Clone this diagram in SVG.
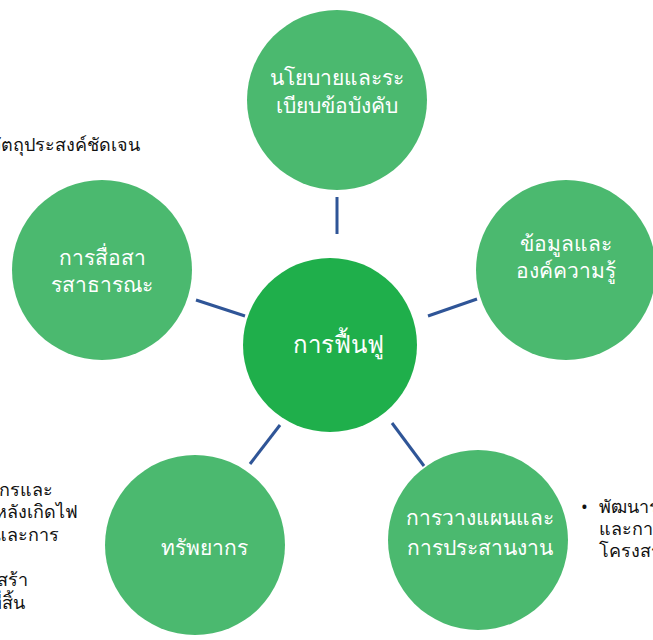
<svg xmlns="http://www.w3.org/2000/svg" width="653" height="640" viewBox="0 0 653 640">
<style>
.c{fill:#4BB96F}
.m{fill:#1FAF4B}
.t{fill:#fff;font-family:"Noto Sans","DejaVu Sans",sans-serif;font-size:21px;text-anchor:middle}
.tm{font-size:24px}
.s{fill:#111;font-family:"Noto Sans","DejaVu Sans",sans-serif;font-size:18px}
.e{text-anchor:end}
.l{stroke:#2F5597;stroke-width:3;fill:none}
</style>
<rect width="653" height="640" fill="#fff"/>
<g id="connectors">
<line class="l" x1="337" y1="197" x2="337" y2="234"/>
<line class="l" x1="196" y1="300" x2="245" y2="316"/>
<line class="l" x1="428" y1="316" x2="477" y2="299"/>
<line class="l" x1="280" y1="425" x2="250" y2="464"/>
<line class="l" x1="392" y1="423" x2="424" y2="466"/>
</g>
<g id="center">
<circle class="m" cx="330" cy="345" r="87"/>
<text class="t tm" x="338" y="353">การฟื้นฟู</text>
</g>
<g id="policy">
<circle class="c" cx="337" cy="100" r="90"/>
<text class="t" x="337" y="85">นโยบายและระ</text>
<text class="t" x="337" y="113">เบียบข้อบังคับ</text>
</g>
<g id="knowledge">
<circle class="c" cx="566" cy="270" r="90"/>
<text class="t" x="566" y="251">ข้อมูลและ</text>
<text class="t" x="566" y="278">องค์ความรู้</text>
</g>
<g id="communication">
<circle class="c" cx="102" cy="270" r="90"/>
<text class="t" x="102" y="265">การสื่อสา</text>
<text class="t" x="102" y="292">รสาธารณะ</text>
</g>
<g id="resources">
<circle class="c" cx="195" cy="545" r="90"/>
<text class="t" x="204" y="555">ทรัพยากร</text>
</g>
<g id="planning">
<circle class="c" cx="478" cy="540" r="90"/>
<text class="t" x="480" y="525">การวางแผนและ</text>
<text class="t" x="480" y="555">การประสานงาน</text>
</g>
<g id="side-texts">
<text class="s e" x="140" y="151">วัตถุประสงค์ชัดเจน</text>
<text class="s e" x="53" y="496">ทรัพยากรและ</text>
<text class="s e" x="78" y="518">งบประมาณหลังเกิดไฟ</text>
<text class="s e" x="59" y="541">และการ</text>
<text class="s e" x="28" y="586">การสร้า</text>
<text class="s e" x="25" y="609">ที่สิ้น</text>
<text class="s" x="581" y="513">•</text>
<text class="s" x="599" y="513">พัฒนาระบบ</text>
<text class="s" x="599" y="535">และการ</text>
<text class="s" x="599" y="557">โครงสร้าง</text>
</g>
</svg>
